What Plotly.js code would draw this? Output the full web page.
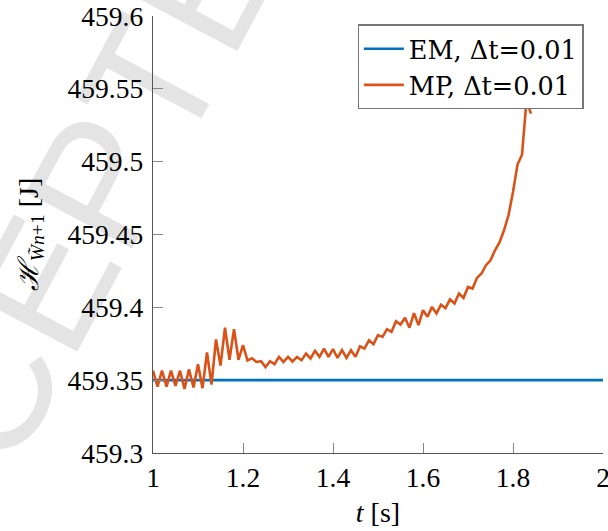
<!DOCTYPE html>
<html><head><meta charset="utf-8">
<script src="https://cdn.plot.ly/plotly-3.0.1.min.js"></script>
<style>
html,body{margin:0;padding:0;background:#fff;}
#wrap{position:relative;width:608px;height:531px;overflow:hidden;background:#fff;}
#wm{position:absolute;left:-245px;top:615px;font-family:"Liberation Sans",sans-serif;font-size:175px;line-height:1.15;color:#e4e4e4;transform:rotate(-62deg);transform-origin:0 0;white-space:nowrap;}
#plot{position:absolute;left:0;top:0;width:608px;height:531px;}
</style></head>
<body><div id="wrap"><div id="wm">ACCEPTED</div><div id="plot"></div></div>
<script>
const emT = [1, 2];
const emH = [459.35, 459.35];
const mpT = [1.00,1.01,1.02,1.03,1.04,1.05,1.06,1.07,1.08,1.09,1.10,1.11,1.12,1.13,1.14,1.15,1.16,1.17,1.18,1.19,
1.20,1.21,1.22,1.23,1.24,1.25,1.26,1.27,1.28,1.29,1.30,1.31,1.32,1.33,1.34,1.35,1.36,1.37,1.38,1.39,
1.40,1.41,1.42,1.43,1.44,1.45,1.46,1.47,1.48,1.49,1.50,1.51,1.52,1.53,1.54,1.55,1.56,1.57,1.58,1.59,
1.60,1.61,1.62,1.63,1.64,1.65,1.66,1.67,1.68,1.69,1.70,1.71,1.72,1.73,1.74,1.75,1.76,1.77,1.78,1.79,
1.80,1.81,1.82,1.83,1.84];
const mpH = [459.3565,459.3455,459.3565,459.3455,459.3565,459.3460,459.3565,459.3440,459.3575,459.3450,
459.3610,459.3445,459.3690,459.3470,459.3780,459.3600,459.3860,459.3640,459.3850,459.3640,
459.3740,459.3635,459.3650,459.3625,459.3630,459.3590,459.3630,459.3610,459.3660,459.3625,
459.3660,459.3628,459.3660,459.3637,459.3683,459.3649,459.3701,459.3660,459.3717,459.3660,
459.3713,459.3653,459.3706,459.3653,459.3706,459.3660,459.3733,459.3717,459.3774,459.3747,
459.3809,459.3797,459.3850,459.3832,459.3905,459.3882,459.3928,459.3860,459.3960,459.3878,
459.3980,459.3935,459.4003,459.3958,459.4018,459.3994,459.4055,459.4026,459.4095,459.4065,
459.4140,459.4129,459.4202,459.4232,459.4289,459.4323,459.4392,459.4445,459.4529,459.4632,
459.4792,459.4980,459.5048,459.5419,459.5330];
const xTicks = [1, 1.2, 1.4, 1.6, 1.8, 2];
const xTickText = ['1', '1.2', '1.4', '1.6', '1.8', '2'];
const yTicks = [459.3, 459.35, 459.4, 459.45, 459.5, 459.55, 459.6];
const yTickText = ['459.3', '459.35', '459.4', '459.45', '459.5', '459.55', '459.6'];

const serif = 'Liberation Serif, DejaVu Serif, serif';
const traces = [
  {x: emT, y: emH, mode: 'lines', name: 'EM, Δt=0.01', line: {color: '#0072BD', width: 2.6}},
  {x: mpT, y: mpH, mode: 'lines', name: 'MP, Δt=0.01', line: {color: '#D95319', width: 2.6}}
];
const layout = {
  width: 608, height: 531,
  paper_bgcolor: 'rgba(0,0,0,0)', plot_bgcolor: 'rgba(0,0,0,0)',
  margin: {l: 153, r: 5, t: 16, b: 78},
  font: {family: serif, size: 27, color: '#000'},
  showlegend: true,
  legend: {x: 0.4546, y: 0.981, xanchor: 'left', yanchor: 'top', bgcolor: '#fff',
    bordercolor: '#777', borderwidth: 1.3, font: {family: 'DejaVu Serif, serif', size: 25.5},
    tracegroupgap: 0, itemwidth: 40},
  xaxis: {range: [1, 2], tickvals: xTicks, ticktext: xTickText, ticks: 'inside', ticklen: 10,
    tickcolor: '#888', showline: true, linecolor: '#555', linewidth: 1.3, showgrid: false, zeroline: false,
    tickfont: {family: serif, size: 27.5}, ticklabeloverflow: 'allow',
    title: {text: '<i>t</i> [s]', font: {family: serif, size: 28}, standoff: 10}},
  yaxis: {range: [459.3, 459.6], tickvals: yTicks, ticktext: yTickText, ticks: 'inside', ticklen: 10,
    tickcolor: '#888', showline: true, linecolor: '#555', linewidth: 1.3, showgrid: false, zeroline: false,
    tickfont: {family: serif, size: 27.5}, ticklabelstandoff: 3, ticklabeloverflow: 'allow',
    title: {text: '<i>ℋ</i><sub><i>W̃</i><i>n</i>+1</sub> [J]', font: {family: serif, size: 28}, standoff: 20}}
};
Plotly.newPlot('plot', traces, layout, {staticPlot: true, displayModeBar: false});
</script></body></html>
